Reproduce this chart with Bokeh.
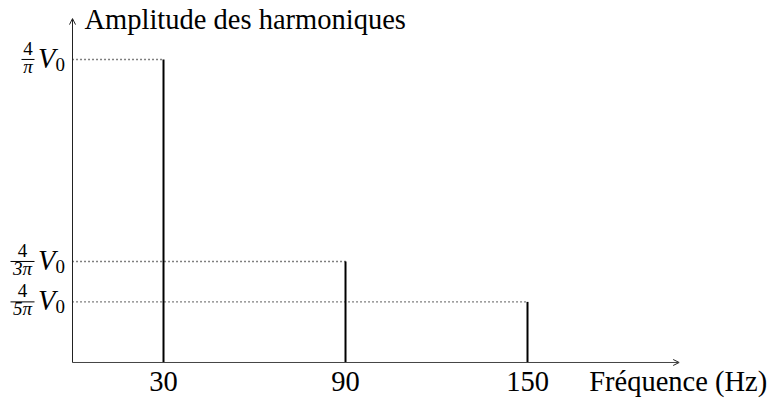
import math
from bokeh.plotting import figure
from bokeh.models import Range1d, ColumnDataSource, Arrow, OpenHead
from bokeh.embed import file_html
from bokeh.resources import INLINE
from bokeh.core.properties import value

# ---- data ----
harmonics = [30, 90, 150]
amplitudes = [4 / math.pi, 4 / (3 * math.pi), 4 / (5 * math.pi)]
numerators = ["4", "4", "4"]
denominators = ["π", "3π", "5π"]
x_ticks = [30, 90, 150]
x_tick_labels = ["30", "90", "150"]
x_title = "Fréquence (Hz)"
y_title = "Amplitude des harmoniques"
x_axis_max = 200
y_axis_max = 1.445

# ---- layout ----
W, H = 767, 401
X0, X1 = -23.74, 229.12
Y0, Y1 = -0.1639, 1.5210
SX = W / (X1 - X0)
FONT = "Liberation Serif"
BIG = "28.5px"
SMALL = "19px"

p = figure(width=W, height=H, x_range=Range1d(X0, X1), y_range=Range1d(Y0, Y1),
           output_backend="svg", toolbar_location=None, min_border=0,
           outline_line_color=None, x_axis_type=None, y_axis_type=None)
p.background_fill_color = "white"
p.border_fill_color = "white"

# dotted guide lines
p.segment(x0=[0] * len(amplitudes), y0=amplitudes, x1=harmonics, y1=amplitudes,
          line_color="black", line_width=1.4, line_dash="1 3")

# spectral lines
p.segment(x0=harmonics, y0=[0] * len(harmonics), x1=harmonics, y1=amplitudes,
          line_color="black", line_width=2)

# axes with arrows
p.add_layout(Arrow(end=OpenHead(size=6, line_width=1, line_color="#222"),
                   x_start=0, y_start=0, x_end=x_axis_max, y_end=0,
                   line_color="#444", line_width=1))
p.add_layout(Arrow(end=OpenHead(size=6, line_width=1, line_color="#222"),
                   x_start=0, y_start=0, x_end=0, y_end=y_axis_max,
                   line_color="#222", line_width=1))

# tick labels
p.text(x=x_ticks, y=[0] * len(x_ticks), text=x_tick_labels, text_align="center",
       text_baseline="middle", y_offset=19, text_font=value(FONT),
       text_font_size=BIG, text_color="black")

# axis titles
p.text(x=[x_axis_max], y=[0], text=[x_title], text_align="left",
       text_baseline="middle", x_offset=-90, y_offset=19,
       text_font=value(FONT), text_font_size=BIG, text_color="black")
p.text(x=[0], y=[y_axis_max], text=[y_title], text_align="left",
       text_baseline="middle", x_offset=12, y_offset=1,
       text_font=value(FONT), text_font_size=BIG, text_color="black")

# fraction labels on y axis
bar_widths = [13, 24, 24]
bar_right = 38
cx = [-(bar_right + w / 2) / SX for w in bar_widths]
src = ColumnDataSource(dict(
    x=[0] * len(amplitudes), y=amplitudes, cx=cx,
    bx0=[-(bar_right + w) / SX for w in bar_widths],
    bx1=[-bar_right / SX] * len(bar_widths),
    num=numerators, den=denominators,
    V=["V"] * len(amplitudes), sub=["0"] * len(amplitudes)))

p.segment(x0="bx0", y0="y", x1="bx1", y1="y", source=src, line_color="black", line_width=1)
p.text(x="cx", y="y", text="num", source=src, text_align="center",
       text_baseline="middle", y_offset=-11, text_font=value(FONT),
       text_font_size=SMALL, text_color="black")
p.text(x="cx", y="y", text="den", source=src, text_align="center",
       text_baseline="middle", y_offset=7, text_font=value(FONT),
       text_font_size=SMALL, text_font_style="italic", text_color="black")
p.text(x="x", y="y", text="V", source=src, text_align="right",
       text_baseline="middle", x_offset=-17, y_offset=-1, text_font=value(FONT),
       text_font_size=BIG, text_font_style="italic", text_color="black")
p.text(x="x", y="y", text="sub", source=src, text_align="left",
       text_baseline="middle", x_offset=-17, y_offset=5, text_font=value(FONT),
       text_font_size=SMALL, text_color="black")

open("out.html", "w").write(file_html(p, INLINE))
